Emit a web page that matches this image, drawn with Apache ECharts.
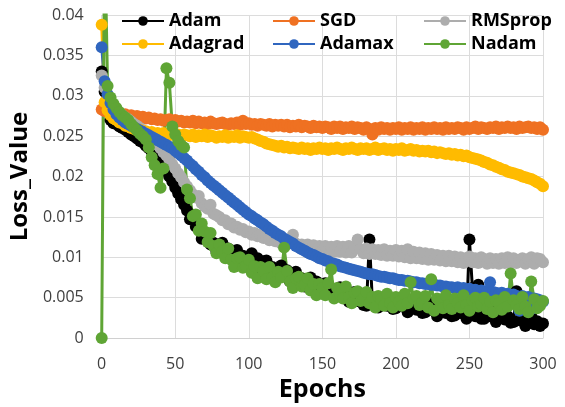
<!DOCTYPE html>
<html><head><meta charset="utf-8">
<script src="https://cdn.jsdelivr.net/npm/echarts@6/dist/echarts.min.js"></script>
<style>html,body{margin:0;padding:0;background:#fff;overflow:hidden}#c{width:565px;height:407px}</style>
</head><body><div id="c"></div>
<script>
const epochs = [0,2,4,6,8,10,12,14,16,18,20,22,24,26,28,30,32,34,36,38,40,42,44,46,48,50,52,54,56,58,60,62,64,66,68,70,72,74,76,78,80,82,84,86,88,90,92,94,96,98,100,102,104,106,108,110,112,114,116,118,120,122,124,126,128,130,132,134,136,138,140,142,144,146,148,150,152,154,156,158,160,162,164,166,168,170,172,174,176,178,180,182,184,186,188,190,192,194,196,198,200,202,204,206,208,210,212,214,216,218,220,222,224,226,228,230,232,234,236,238,240,242,244,246,248,250,252,254,256,258,260,262,264,266,268,270,272,274,276,278,280,282,284,286,288,290,292,294,296,298,300];

const adam = [
0.0330,0.0305,0.0282,0.0270,0.0266,0.0265,0.0262,0.0260,0.0258,0.0255,
0.0252,0.0250,0.0247,0.0244,0.0242,0.0238,0.0235,0.0231,0.0228,0.0224,
0.0218,0.0213,0.0207,0.0200,0.0194,0.0186,0.0179,0.0172,0.0165,0.0158,
0.0147,0.0152,0.0138,0.0139,0.0123,0.0130,0.0129,0.0116,0.0118,0.0107,
0.0108,0.0118,0.0107,0.0111,0.0098,0.0107,0.0109,0.0098,0.0102,0.0093,
0.0094,0.0105,0.0094,0.0099,0.0085,0.0095,0.0096,0.0085,0.0088,0.0079,
0.0079,0.0090,0.0079,0.0084,0.0070,0.0080,0.0082,0.0070,0.0074,0.0064,
0.0065,0.0075,0.0065,0.0070,0.0056,0.0066,0.0068,0.0057,0.0060,0.0051,
0.0052,0.0063,0.0053,0.0058,0.0045,0.0055,0.0057,0.0046,0.0050,0.0041,
0.0040,0.0122,0.0045,0.0050,0.0038,0.0048,0.0050,0.0040,0.0045,0.0036,
0.0037,0.0049,0.0040,0.0044,0.0032,0.0043,0.0045,0.0035,0.0039,0.0031,
0.0032,0.0044,0.0035,0.0040,0.0027,0.0038,0.0041,0.0031,0.0035,0.0027,
0.0028,0.0040,0.0031,0.0036,0.0024,0.0122,0.0062,0.0027,0.0066,0.0024,
0.0024,0.0036,0.0027,0.0032,0.0020,0.0030,0.0033,0.0023,0.0027,0.0019,
0.0020,0.0058,0.0022,0.0027,0.0015,0.0025,0.0027,0.0017,0.0021,0.0015,
0.0018];

const sgd = [
0.0283,0.0281,0.0280,0.0278,0.0279,0.0277,0.0278,0.0276,0.0277,0.0275,
0.0276,0.0274,0.0275,0.0273,0.0274,0.0272,0.0273,0.0271,0.0272,0.0270,
0.0271,0.0269,0.0270,0.0271,0.0268,0.0270,0.0268,0.0269,0.0267,0.0268,
0.0267,0.0269,0.0266,0.0268,0.0266,0.0267,0.0265,0.0268,0.0266,0.0265,
0.0266,0.0267,0.0265,0.0264,0.0266,0.0265,0.0267,0.0264,0.0269,0.0265,
0.0266,0.0264,0.0265,0.0263,0.0265,0.0264,0.0263,0.0265,0.0262,0.0264,
0.0263,0.0264,0.0262,0.0264,0.0261,0.0263,0.0262,0.0264,0.0261,0.0263,
0.0262,0.0260,0.0263,0.0261,0.0262,0.0260,0.0262,0.0261,0.0259,0.0262,
0.0260,0.0262,0.0259,0.0261,0.0260,0.0262,0.0259,0.0261,0.0260,0.0258,
0.0261,0.0259,0.0252,0.0260,0.0258,0.0261,0.0259,0.0260,0.0258,0.0260,
0.0259,0.0261,0.0258,0.0260,0.0259,0.0261,0.0258,0.0260,0.0259,0.0261,
0.0258,0.0260,0.0259,0.0261,0.0259,0.0260,0.0258,0.0261,0.0259,0.0260,
0.0259,0.0261,0.0260,0.0258,0.0261,0.0259,0.0260,0.0262,0.0259,0.0261,
0.0260,0.0259,0.0261,0.0260,0.0262,0.0259,0.0261,0.0260,0.0262,0.0260,
0.0261,0.0259,0.0262,0.0260,0.0261,0.0262,0.0260,0.0261,0.0259,0.0261,
0.0258];

const rmsprop = [
0.0325,0.0310,0.0298,0.0291,0.0286,0.0282,0.0279,0.0276,0.0273,0.0271,
0.0268,0.0265,0.0263,0.0260,0.0257,0.0254,0.0250,0.0247,0.0243,0.0239,
0.0235,0.0230,0.0226,0.0221,0.0215,0.0210,0.0204,0.0199,0.0193,0.0188,
0.0183,0.0178,0.0174,0.0176,0.0167,0.0163,0.0160,0.0165,0.0154,0.0152,
0.0150,0.0146,0.0146,0.0141,0.0142,0.0137,0.0138,0.0134,0.0135,0.0131,
0.0132,0.0128,0.0130,0.0126,0.0128,0.0124,0.0126,0.0121,0.0124,0.0120,
0.0121,0.0117,0.0120,0.0116,0.0118,0.0128,0.0117,0.0113,0.0116,0.0112,
0.0116,0.0110,0.0115,0.0109,0.0114,0.0108,0.0114,0.0108,0.0113,0.0107,
0.0114,0.0107,0.0113,0.0106,0.0114,0.0106,0.0112,0.0122,0.0110,0.0105,
0.0111,0.0104,0.0110,0.0104,0.0109,0.0103,0.0110,0.0102,0.0108,0.0102,
0.0109,0.0101,0.0108,0.0100,0.0110,0.0099,0.0107,0.0099,0.0106,0.0098,
0.0105,0.0097,0.0104,0.0097,0.0103,0.0096,0.0102,0.0095,0.0102,0.0095,
0.0101,0.0094,0.0100,0.0093,0.0099,0.0101,0.0094,0.0099,0.0093,0.0100,
0.0098,0.0092,0.0099,0.0093,0.0098,0.0092,0.0099,0.0093,0.0100,0.0092,
0.0099,0.0093,0.0097,0.0099,0.0092,0.0098,0.0100,0.0092,0.0099,0.0098,
0.0094];

const adagrad = [
0.0388,0.0292,0.0282,0.0276,0.0272,0.0270,0.0267,0.0266,0.0263,0.0262,
0.0260,0.0259,0.0257,0.0258,0.0255,0.0256,0.0254,0.0255,0.0253,0.0254,
0.0252,0.0254,0.0252,0.0251,0.0253,0.0251,0.0252,0.0250,0.0252,0.0251,
0.0250,0.0252,0.0249,0.0251,0.0250,0.0252,0.0249,0.0251,0.0250,0.0248,
0.0250,0.0249,0.0251,0.0248,0.0250,0.0249,0.0251,0.0248,0.0250,0.0249,
0.0248,0.0249,0.0247,0.0246,0.0244,0.0243,0.0241,0.0240,0.0239,0.0238,
0.0237,0.0238,0.0236,0.0237,0.0235,0.0236,0.0235,0.0234,0.0236,0.0234,
0.0235,0.0233,0.0235,0.0234,0.0236,0.0234,0.0235,0.0233,0.0235,0.0234,
0.0236,0.0234,0.0233,0.0235,0.0234,0.0236,0.0234,0.0233,0.0235,0.0234,
0.0235,0.0233,0.0234,0.0236,0.0233,0.0234,0.0235,0.0233,0.0234,0.0232,
0.0234,0.0233,0.0235,0.0232,0.0233,0.0234,0.0232,0.0233,0.0231,0.0232,
0.0231,0.0232,0.0230,0.0231,0.0229,0.0230,0.0229,0.0228,0.0229,0.0227,
0.0228,0.0226,0.0227,0.0225,0.0226,0.0224,0.0223,0.0222,0.0221,0.0220,
0.0218,0.0217,0.0215,0.0214,0.0212,0.0211,0.0209,0.0208,0.0206,0.0205,
0.0204,0.0203,0.0202,0.0200,0.0199,0.0198,0.0197,0.0195,0.0193,0.0191,
0.0188];

const adamax = [
0.0360,0.0318,0.0302,0.0291,0.0283,0.0277,0.0273,0.0270,0.0267,0.0265,
0.0263,0.0261,0.0259,0.0257,0.0255,0.0253,0.0251,0.0249,0.0247,0.0245,
0.0243,0.0241,0.0239,0.0237,0.0235,0.0232,0.0229,0.0226,0.0223,0.0220,
0.0216,0.0213,0.0209,0.0206,0.0202,0.0199,0.0195,0.0192,0.0189,0.0186,
0.0183,0.0180,0.0177,0.0174,0.0171,0.0168,0.0165,0.0162,0.0159,0.0156,
0.0153,0.0151,0.0148,0.0146,0.0143,0.0141,0.0138,0.0135,0.0133,0.0130,
0.0128,0.0126,0.0123,0.0121,0.0119,0.0117,0.0114,0.0112,0.0110,0.0108,
0.0106,0.0104,0.0103,0.0101,0.0099,0.0098,0.0096,0.0095,0.0093,0.0092,
0.0091,0.0089,0.0088,0.0087,0.0086,0.0085,0.0084,0.0083,0.0082,0.0081,
0.0080,0.0079,0.0079,0.0078,0.0077,0.0076,0.0076,0.0075,0.0074,0.0074,
0.0073,0.0072,0.0072,0.0071,0.0071,0.0070,0.0069,0.0069,0.0068,0.0068,
0.0067,0.0067,0.0066,0.0066,0.0065,0.0065,0.0064,0.0064,0.0063,0.0063,
0.0062,0.0063,0.0061,0.0062,0.0060,0.0061,0.0059,0.0060,0.0058,0.0059,
0.0058,0.0057,0.0069,0.0057,0.0056,0.0055,0.0056,0.0054,0.0055,0.0053,
0.0054,0.0052,0.0034,0.0052,0.0050,0.0051,0.0036,0.0049,0.0048,0.0047,
0.0045];

const nadam = [
0.0000,0.0500,0.0312,0.0298,0.0290,0.0285,0.0280,0.0276,0.0273,0.0270,
0.0265,0.0261,0.0257,0.0253,0.0250,0.0246,0.0236,0.0224,0.0214,0.0203,
0.0186,0.0210,0.0334,0.0316,0.0262,0.0252,0.0244,0.0239,0.0236,0.0184,
0.0173,0.0151,0.0153,0.0133,0.0142,0.0132,0.0119,0.0130,0.0114,0.0105,
0.0116,0.0107,0.0099,0.0111,0.0097,0.0088,0.0099,0.0100,0.0087,0.0089,
0.0097,0.0081,0.0089,0.0074,0.0088,0.0083,0.0073,0.0088,0.0075,0.0069,
0.0082,0.0075,0.0112,0.0083,0.0070,0.0062,0.0074,0.0076,0.0064,0.0066,
0.0074,0.0059,0.0067,0.0053,0.0067,0.0062,0.0053,0.0068,0.0085,0.0049,
0.0062,0.0055,0.0049,0.0064,0.0051,0.0043,0.0056,0.0058,0.0046,0.0049,
0.0057,0.0043,0.0051,0.0038,0.0052,0.0048,0.0040,0.0055,0.0043,0.0038,
0.0051,0.0045,0.0040,0.0055,0.0043,0.0069,0.0049,0.0052,0.0041,0.0044,
0.0052,0.0038,0.0073,0.0034,0.0049,0.0045,0.0037,0.0053,0.0041,0.0036,
0.0049,0.0043,0.0038,0.0053,0.0041,0.0034,0.0047,0.0050,0.0039,0.0042,
0.0050,0.0036,0.0045,0.0032,0.0047,0.0043,0.0035,0.0051,0.0039,0.0080,
0.0047,0.0041,0.0036,0.0051,0.0039,0.0032,0.0070,0.0048,0.0037,0.0040,
0.0046];

const yTickLabels = ['0','0.005','0.01','0.015','0.02','0.025','0.03','0.035','0.04'];

const seriesDefs = [
  {name:'Adam', data:adam, color:'#000000'},
  {name:'SGD', data:sgd, color:'#EF7122'},
  {name:'RMSprop', data:rmsprop, color:'#ADADAD'},
  {name:'Adagrad', data:adagrad, color:'#FFBB00'},
  {name:'Adamax', data:adamax, color:'#3066BF'},
  {name:'Nadam', data:nadam, color:'#5FA535'}
];

const chart = echarts.init(document.getElementById('c'), null, {renderer:'canvas'});
const legendText = {fontFamily:'Open Sans', fontWeight:'bold', fontSize:18, color:'#000'};
function legendCol(names, left){
  return {orient:'vertical', left:left, top:7, itemWidth:42, itemHeight:12, itemGap:5,
          textStyle:legendText, data:names};
}
chart.setOption({
  animation:false,
  backgroundColor:'#fff',
  grid:{left:101, right:22, top:15, bottom:67, containLabel:false},
  legend:[legendCol(['Adam','Adagrad'],116), legendCol(['SGD','Adamax'],267), legendCol(['RMSprop','Nadam'],418)],
  xAxis:{type:'value', min:0, max:300, interval:50,
    axisLine:{lineStyle:{color:'#d0d0d0', width:1}}, axisTick:{show:false},
    splitLine:{show:true, lineStyle:{color:'#dcdcdc', width:1}},
    axisLabel:{fontFamily:'Open Sans', fontSize:16, color:'#404040', margin:18},
    name:'Epochs', nameLocation:'middle', nameGap:35,
    nameTextStyle:{fontFamily:'Open Sans', fontWeight:'bold', fontSize:25, color:'#000'}},
  yAxis:{type:'value', min:0, max:0.04, interval:0.005,
    axisLine:{show:false}, axisTick:{show:false},
    splitLine:{show:true, lineStyle:{color:'#dcdcdc', width:1}},
    axisLabel:{fontFamily:'Open Sans', fontSize:16, color:'#404040', margin:18,
      formatter:function(v){ return yTickLabels[Math.round(v/0.005)]; }},
    name:'Loss_Value', nameLocation:'middle', nameGap:62, nameRotate:90,
    nameTextStyle:{fontFamily:'Open Sans', fontWeight:'bold', fontSize:24, color:'#000'}},
  series: seriesDefs.map(function(s){
    return {name:s.name, type:'line', clip:true, symbol:'circle', symbolSize:12, showSymbol:true,
      color:s.color, itemStyle:{color:s.color}, lineStyle:{color:s.color, width:3},
      emphasis:{disabled:true},
      data: epochs.map(function(e,i){ return [e, s.data[i]]; })};
  })
});
</script></body></html>
